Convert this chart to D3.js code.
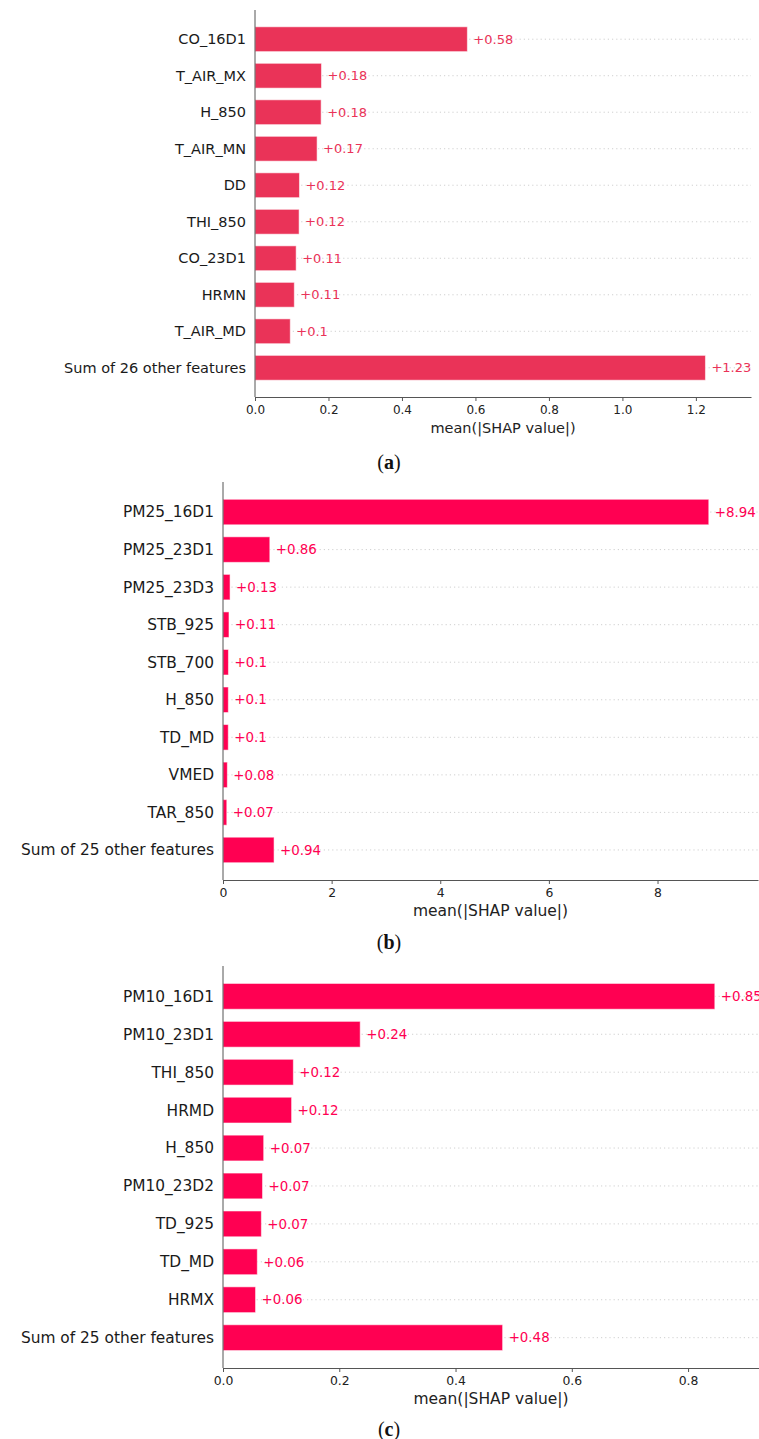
<!DOCTYPE html>
<html>
<head>
<meta charset="utf-8">
<script src="https://cdn.jsdelivr.net/npm/d3@7"></script>
<style>
  html, body { margin: 0; padding: 0; background: #fff; }
  svg { display: block; }
  text { font-family: "DejaVu Sans", sans-serif; }
</style>
</head>
<body>
<svg id="chart" width="759" height="1439"></svg>
<script>
// ---- data: mean absolute SHAP value per feature ----
const featuresA = ["CO_16D1", "T_AIR_MX", "H_850", "T_AIR_MN", "DD", "THI_850", "CO_23D1", "HRMN", "T_AIR_MD", "Sum of 26 other features"];
const valuesA = [0.578, 0.181, 0.180, 0.169, 0.121, 0.120, 0.112, 0.107, 0.096, 1.226];
const ticksA = [0, 0.2, 0.4, 0.6, 0.8, 1.0, 1.2];

const featuresB = ["PM25_16D1", "PM25_23D1", "PM25_23D3", "STB_925", "STB_700", "H_850", "TD_MD", "VMED", "TAR_850", "Sum of 25 other features"];
const valuesB = [8.944, 0.862, 0.13, 0.11, 0.1, 0.098, 0.097, 0.08, 0.07, 0.94];
const ticksB = [0, 2, 4, 6, 8];

const featuresC = ["PM10_16D1", "PM10_23D1", "THI_850", "HRMD", "H_850", "PM10_23D2", "TD_925", "TD_MD", "HRMX", "Sum of 25 other features"];
const valuesC = [0.846, 0.236, 0.121, 0.118, 0.07, 0.068, 0.066, 0.059, 0.056, 0.481];
const ticksC = [0, 0.2, 0.4, 0.6, 0.8];

const captions = ["a", "b", "c"];
const axisTitle = "mean(|SHAP value|)";

// ---- panel layout (pixels) and text sizes ----
const panels = [
  { features: featuresA, values: valuesA, ticks: ticksA, tickFmt: ".1f", xMax: 1.35,
    left: 255, right: 751, top: 10, bottom: 397, color: "#ea3358",
    fsLabel: 14.5, fsValue: 13, fsTick: 12, fsTitle: 14.5,
    caption: captions[0], capY: 462 },
  { features: featuresB, values: valuesB, ticks: ticksB, tickFmt: "d", xMax: 9.85,
    left: 223, right: 758, top: 482, bottom: 880, color: "#ff0052",
    fsLabel: 15.4, fsValue: 13.4, fsTick: 12.4, fsTitle: 15.5,
    caption: captions[1], capY: 942 },
  { features: featuresC, values: valuesC, ticks: ticksC, tickFmt: ".1f", xMax: 0.922,
    left: 223, right: 759, top: 966, bottom: 1368, color: "#ff0052",
    fsLabel: 15.4, fsValue: 13.4, fsTick: 12.4, fsTitle: 15.5,
    caption: captions[2], capY: 1429 }
];

const svg = d3.select("#chart");
svg.append("rect").attr("width", 759).attr("height", 1439).attr("fill", "#fff");

// value label: two decimals, trailing zeros dropped, with explicit sign
const valueLabel = v => {
  let s = d3.format(".2f")(v).replace(/0+$/, "").replace(/\.$/, "");
  return "+" + s;
};

panels.forEach(p => {
  const n = p.features.length;
  const x = d3.scaleLinear().domain([0, p.xMax]).range([p.left, p.right]);
  const y = d3.scaleLinear().domain([-0.8, n - 1 + 0.8]).range([p.top, p.bottom]);
  const rowStep = y(1) - y(0);
  const barH = rowStep * 0.68;

  const g = svg.append("g");

  // dotted row guides
  g.selectAll("line.guide").data(p.features).join("line")
    .attr("class", "guide")
    .attr("x1", p.left).attr("x2", p.right)
    .attr("y1", (d, i) => y(i)).attr("y2", (d, i) => y(i))
    .attr("stroke", "#c4c4c4").attr("stroke-width", 0.8)
    .attr("stroke-dasharray", "1.2,3");

  // bars
  g.selectAll("rect.bar").data(p.values).join("rect")
    .attr("class", "bar")
    .attr("x", x(0))
    .attr("y", (d, i) => y(i) - barH / 2)
    .attr("width", d => x(d) - x(0))
    .attr("height", barH)
    .attr("fill", p.color)
    .attr("stroke", "rgba(255,255,255,0.55)")
    .attr("stroke-width", 1);

  // value labels
  g.selectAll("text.val").data(p.values).join("text")
    .attr("class", "val")
    .attr("x", d => x(d) + 6)
    .attr("y", (d, i) => y(i))
    .attr("dy", "0.35em")
    .attr("font-size", p.fsValue)
    .attr("fill", p.color)
    .text(d => valueLabel(d));

  // feature names
  g.selectAll("text.feat").data(p.features).join("text")
    .attr("class", "feat")
    .attr("x", p.left - 9)
    .attr("y", (d, i) => y(i))
    .attr("dy", "0.35em")
    .attr("text-anchor", "end")
    .attr("font-size", p.fsLabel)
    .attr("fill", "#1a1a1a")
    .text(d => d);

  // x axis
  const xAxis = d3.axisBottom(x).tickValues(p.ticks)
    .tickFormat(d3.format(p.tickFmt)).tickSize(4).tickPadding(4).tickSizeOuter(0);
  const ax = g.append("g").attr("transform", `translate(0,${p.bottom})`).call(xAxis);
  ax.select(".domain").attr("stroke", "#555").attr("stroke-width", 1);
  ax.selectAll(".tick line").attr("stroke", "#555");
  ax.selectAll(".tick text").attr("font-size", p.fsTick).attr("fill", "#222")
    .attr("font-family", "DejaVu Sans, sans-serif");

  // left spine
  g.append("line")
    .attr("x1", p.left).attr("x2", p.left)
    .attr("y1", p.top).attr("y2", p.bottom)
    .attr("stroke", "#555").attr("stroke-width", 1);

  // axis title
  g.append("text")
    .attr("x", (p.left + p.right) / 2)
    .attr("y", p.bottom + 31)
    .attr("dy", "0.35em")
    .attr("text-anchor", "middle")
    .attr("font-size", p.fsTitle)
    .attr("fill", "#222")
    .text(axisTitle);

  // sub-figure caption
  const cap = svg.append("text")
    .attr("x", 389).attr("y", p.capY).attr("dy", "0.35em")
    .attr("text-anchor", "middle")
    .attr("font-size", 20)
    .attr("fill", "#111")
    .style("font-family", "'Liberation Serif', 'DejaVu Serif', serif");
  cap.append("tspan").text("(");
  cap.append("tspan").attr("font-weight", "bold").text(p.caption);
  cap.append("tspan").text(")");
});
</script>
</body>
</html>
